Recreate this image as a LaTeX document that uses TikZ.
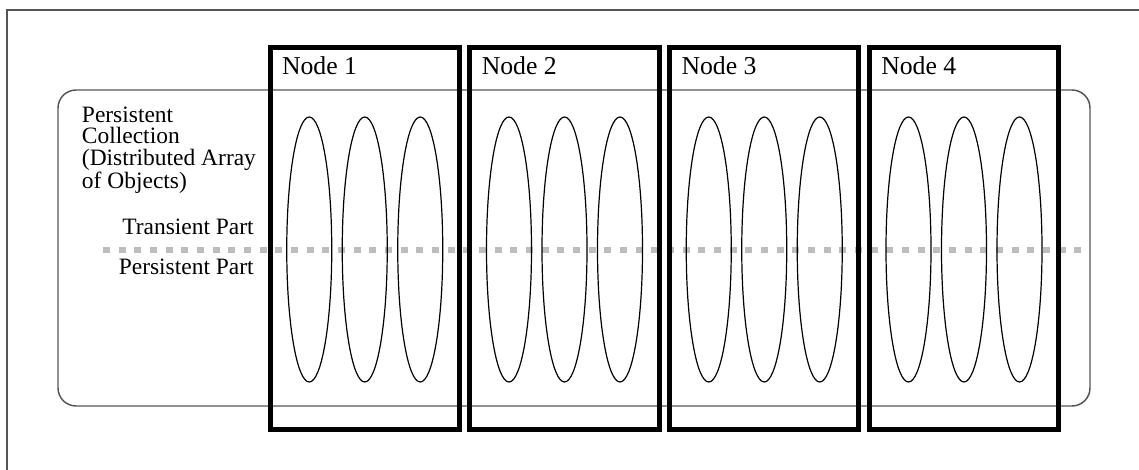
\documentclass[tikz,border=0pt]{standalone}
\usepackage{fontspec}
\setmainfont{Liberation Serif}
\usetikzlibrary{shapes.geometric,positioning}
\definecolor{framegray}{RGB}{85,85,85}
\definecolor{splitgray}{RGB}{189,189,189}

\tikzset{
  nodebox/.style={draw=black, line width=3.75pt, minimum width=142.1pt, minimum height=286.5pt, inner sep=0pt},
  objshape/.style={draw=black, ellipse, line width=0.9pt, minimum width=33.75pt, minimum height=198.75pt, inner sep=0pt},
  collbox/.style={draw=framegray, line width=1.1pt, rounded corners=13.5pt, minimum width=774pt, minimum height=237pt, inner sep=0pt},
  nodelabel/.style={font=\fontsize{19.3pt}{21pt}\selectfont, inner sep=0pt},
  infotext/.style={font=\fontsize{17.6pt}{16.1pt}\selectfont, inner sep=0pt}
}

\begin{document}
\begin{tikzpicture}[x=0.75pt,y=-0.75pt]
  \useasboundingbox (0,0) rectangle (1139,470);
  \clip (0,0) rectangle (1139,470);

  % Outer frame
  \draw[framegray, line width=1.4pt] (1150,10) -- (7,10) -- (7,480);

  % The persistent collection
  \node[collbox] (coll) at (574,248) {};
  \node[infotext, anchor=north west, align=left] (collname) at (81.7,106.5)
    {Persistent\\Collection\\(Distributed Array\\of Objects)};

  % Transient / persistent split
  \coordinate (splitL) at (103,250);
  \coordinate (splitR) at (1085,250);
  \draw[splitgray, line width=4pt, dash pattern=on 5.25pt off 6.5pt] (splitL) -- (splitR);
  \node[infotext, anchor=base east] (transient) at (254,235) {Transient Part};
  \node[infotext, anchor=base east] (persistent) at (254,275) {Persistent Part};

  % Nodes, each holding three objects
  \foreach \i in {1,...,4} {
    \pgfmathsetmacro{\bx}{364.75+199.75*(\i-1)}
    \foreach \k [count=\j] in {-1,0,1} {
      \node[objshape] (obj\i\j) at ({\bx+55.5*\k},249.5) {};
    }
    \node[nodebox] (node\i) at (\bx,238.5) {};
    \node[nodelabel, anchor=base west] (name\i) at (\bx-83,75) {Node \i};
  }
\end{tikzpicture}
\end{document}
